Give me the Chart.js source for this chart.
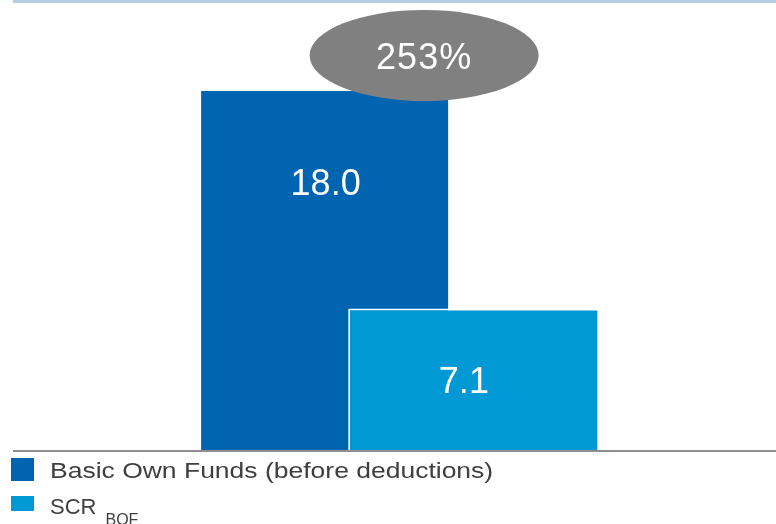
<!DOCTYPE html>
<html>
<head>
<meta charset="utf-8">
<script src="https://cdn.jsdelivr.net/npm/chart.js@4/dist/chart.umd.min.js"></script>
<style>
  html, body { margin: 0; padding: 0; background: #fff; }
  #wrap { position: relative; width: 776px; height: 524px; overflow: hidden; }
  #chart { position: absolute; left: 0; top: 0; }
  .leg { position: absolute; left: 0; font-family: "Liberation Sans", Arial, sans-serif; color: #3f3f3f; white-space: nowrap; }
  .leg .box { position: absolute; left: 11px; width: 23px; }
  .leg .txt { position: absolute; left: 50px; font-size: 22px; line-height: 22px; }
  #leg1 .txt { transform: scaleX(1.204); transform-origin: 0 0; }
  .leg sub { font-size: 16px; vertical-align: baseline; position: relative; top: 11px; line-height: 0; margin-left: 9px; }
</style>
</head>
<body>
<div id="wrap">
  <canvas id="chart" width="776" height="524"></canvas>
  <div class="leg" id="leg1" style="top:458px"><div class="box" style="top:0;height:23px"></div><div class="txt" style="top:2px"></div></div>
  <div class="leg" id="leg2" style="top:496px"><div class="box" style="top:0;height:15px"></div><div class="txt" style="top:0"></div></div>
</div>
<script>
// --- Data ---
const categories = ["Basic Own Funds (before deductions)", "SCR"];
const legendSub = ["", "BOF"];
const ownFunds = [18.0, null];
const scrValues = [null, 7.1];
const valueLabels = ["18.0", "7.1"];
const ratioLabel = "253%";

// --- Colours ---
const darkBlue = "#0064b1";
const lightBlue = "#0099d5";
const ovalGrey = "#808080";

// --- Legend (html, because of the subscript) ---
[darkBlue, lightBlue].forEach((c, i) => {
  const el = document.getElementById("leg" + (i + 1));
  el.querySelector(".box").style.background = c;
  el.querySelector(".txt").innerHTML = categories[i] + (legendSub[i] ? "<sub>" + legendSub[i] + "</sub>" : "");
});

// --- Frame lines: light blue rule on top, grey baseline ---
const framePlugin = {
  id: "frame",
  beforeDraw(chart) {
    const ctx = chart.ctx;
    const base = chart.scales.y.getPixelForValue(0);
    ctx.save();
    ctx.fillStyle = "#b5cde6";
    ctx.fillRect(13, 0, chart.width - 13, 3);
    ctx.fillStyle = "#8f8f8f";
    ctx.fillRect(13, base, chart.width - 13, 2);
    ctx.restore();
  }
};

// --- Value labels in the bars + the ratio oval ---
const labelPlugin = {
  id: "labels",
  afterDatasetsDraw(chart) {
    const ctx = chart.ctx;
    ctx.save();
    ctx.font = "36px 'Liberation Sans', Arial, sans-serif";
    ctx.fillStyle = "#fff";
    ctx.textAlign = "center";
    ctx.textBaseline = "alphabetic";
    const offs = [[1, 104], [-9, 85]];
    chart.data.datasets.forEach((ds, di) => {
      const meta = chart.getDatasetMeta(di);
      meta.data.forEach((bar, i) => {
        if (ds.data[i] == null) return;
        ctx.fillText(valueLabels[i], bar.x + offs[i][0], bar.y + offs[i][1]);
      });
    });
    // ratio oval above the first bar
    const b0 = chart.getDatasetMeta(0).data[0];
    const cx = b0.x + 99.5, cy = 55.5;
    ctx.fillStyle = ovalGrey;
    ctx.beginPath();
    ctx.ellipse(cx, cy, 114.5, 45.5, 0, 0, Math.PI * 2);
    ctx.fill();
    ctx.fillStyle = "#fff";
    ctx.letterSpacing = "1px";
    ctx.fillText(ratioLabel, cx, 69);
    ctx.restore();
  }
};

new Chart(document.getElementById("chart"), {
  type: "bar",
  data: {
    labels: categories,
    datasets: [
      {
        label: categories[0],
        data: ownFunds,
        backgroundColor: darkBlue,
        borderWidth: 0,
        barPercentage: 1.666,
        categoryPercentage: 1,
        grouped: false,
        clip: false,
        order: 1
      },
      {
        label: categories[1],
        data: scrValues,
        backgroundColor: lightBlue,
        borderColor: "#ffffff",
        borderWidth: { top: 2, left: 2, right: 0, bottom: 0 },
        barPercentage: 1.682,
        categoryPercentage: 1,
        grouped: false,
        clip: false,
        order: 0
      }
    ]
  },
  options: {
    responsive: false,
    animation: false,
    layout: { padding: { left: 250.5, right: 229, top: 0, bottom: 74 } },
    scales: {
      x: { display: false, offset: true },
      y: { display: false, min: 0, max: 22.56 }
    },
    plugins: {
      legend: { display: false },
      tooltip: { enabled: false }
    }
  },
  plugins: [framePlugin, labelPlugin]
});
</script>
</body>
</html>
